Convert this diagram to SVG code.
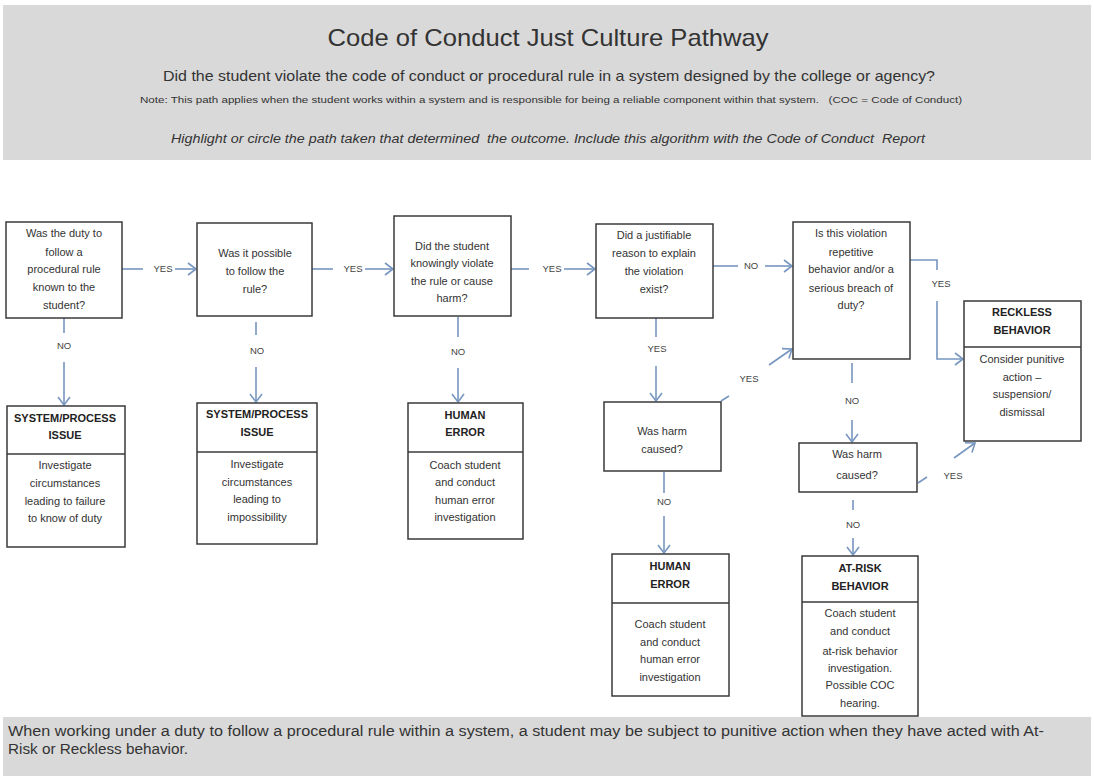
<svg xmlns="http://www.w3.org/2000/svg" width="1094" height="776" viewBox="0 0 1094 776">
<defs>
<style>
text{font-family:"Liberation Sans",Arial,sans-serif;fill:#333;}
.q{font-size:11px;text-anchor:middle;}
.h{font-size:11px;font-weight:bold;text-anchor:middle;fill:#222;}
.lbl{font-size:9.5px;text-anchor:middle;fill:#444;}
.box{fill:#fff;stroke:#3a3a3a;stroke-width:1.5;}
.div{stroke:#3a3a3a;stroke-width:1.5;}
.c{stroke:#7796c0;stroke-width:1.6;fill:none;}
.ca{stroke:#7796c0;stroke-width:1.6;fill:none;marker-end:url(#arr);}
.band{fill:#d9d9d9;}
</style>
<marker id="arr" markerUnits="userSpaceOnUse" markerWidth="12" markerHeight="14" refX="9" refY="7" orient="auto">
<path d="M1,1 L9,7 L1,13" fill="none" stroke="#7796c0" stroke-width="1.6"/>
</marker>
</defs>
<rect width="1094" height="776" fill="#fff"/>

<g id="header">
<rect class="band" x="3" y="5" width="1088" height="155"/>
<text x="548" y="46" font-size="24" text-anchor="middle" fill="#222" textLength="441" lengthAdjust="spacingAndGlyphs">Code of Conduct Just Culture Pathway</text>
<text x="549" y="81" font-size="14.5" text-anchor="middle" fill="#222" textLength="772" lengthAdjust="spacingAndGlyphs">Did the student violate the code of conduct or procedural rule in a system designed by the college or agency?</text>
<text x="551" y="103" font-size="9" text-anchor="middle" fill="#222" textLength="822" lengthAdjust="spacingAndGlyphs" xml:space="preserve">Note: This path applies when the student works within a system and is responsible for being a reliable component within that system.   (COC = Code of Conduct)</text>
<text x="548" y="143" font-size="12" font-style="italic" text-anchor="middle" fill="#222" textLength="754" lengthAdjust="spacingAndGlyphs" xml:space="preserve">Highlight or circle the path taken that determined  the outcome. Include this algorithm with the Code of Conduct  Report</text>
</g>

<g id="footer">
<rect class="band" x="3" y="717" width="1088" height="59"/>
<text x="8" y="736" font-size="14" fill="#222" textLength="1036" lengthAdjust="spacingAndGlyphs">When working under a duty to follow a procedural rule within a system, a student may be subject to punitive action when they have acted with At-</text>
<text x="8" y="754" font-size="14" fill="#222" textLength="180" lengthAdjust="spacingAndGlyphs">Risk or Reckless behavior.</text>
</g>

<g id="connectors">
<line class="c" x1="122" y1="269" x2="143" y2="269"/>
<text class="lbl" x="163" y="272">YES</text>
<line class="ca" x1="175" y1="269" x2="196" y2="269"/>

<line class="c" x1="312" y1="269" x2="333" y2="269"/>
<text class="lbl" x="353" y="272">YES</text>
<line class="ca" x1="365" y1="269" x2="393" y2="269"/>

<line class="c" x1="511" y1="269" x2="529" y2="269"/>
<text class="lbl" x="552" y="272">YES</text>
<line class="ca" x1="564" y1="269" x2="595" y2="269"/>

<line class="c" x1="713" y1="266" x2="738" y2="266"/>
<text class="lbl" x="751" y="269">NO</text>
<line class="ca" x1="765" y1="266" x2="792" y2="266"/>

<polyline class="c" points="910,260 937,260 937,270"/>
<text class="lbl" x="941" y="287">YES</text>
<polyline class="ca" points="937,301 937,359 963,359"/>

<line class="c" x1="64" y1="318" x2="64" y2="333"/>
<text class="lbl" x="64" y="349">NO</text>
<line class="ca" x1="64" y1="362" x2="64" y2="405"/>

<line class="c" x1="256" y1="322" x2="256" y2="335"/>
<text class="lbl" x="257" y="354">NO</text>
<line class="ca" x1="256" y1="367" x2="256" y2="402"/>

<line class="c" x1="458" y1="317" x2="458" y2="337"/>
<text class="lbl" x="458" y="355">NO</text>
<line class="ca" x1="458" y1="368" x2="458" y2="402"/>

<line class="c" x1="656" y1="318" x2="656" y2="337"/>
<text class="lbl" x="657" y="352">YES</text>
<line class="ca" x1="656" y1="366" x2="656" y2="401"/>

<line class="c" x1="721" y1="401" x2="729" y2="396"/>
<text class="lbl" x="749" y="382">YES</text>
<line class="ca" x1="769" y1="365" x2="792" y2="349"/>

<line class="c" x1="852" y1="363" x2="852" y2="383"/>
<text class="lbl" x="852" y="404">NO</text>
<line class="ca" x1="852" y1="420" x2="852" y2="442"/>

<line class="c" x1="918" y1="483" x2="927" y2="477"/>
<text class="lbl" x="953" y="479">YES</text>
<line class="ca" x1="954" y1="458" x2="975" y2="443"/>

<line class="c" x1="664" y1="472" x2="664" y2="493"/>
<text class="lbl" x="664" y="505">NO</text>
<line class="ca" x1="664" y1="516" x2="664" y2="553"/>

<line class="c" x1="853" y1="500" x2="853" y2="510"/>
<text class="lbl" x="853" y="528">NO</text>
<line class="ca" x1="853" y1="538" x2="853" y2="555"/>
</g>

<g id="q1">
<rect class="box" x="6" y="222" width="116" height="96"/>
<text class="q" x="64" y="237">Was the duty to</text>
<text class="q" x="64" y="256">follow a</text>
<text class="q" x="64" y="273">procedural rule</text>
<text class="q" x="64" y="291">known to the</text>
<text class="q" x="64" y="309">student?</text>
</g>

<g id="q2">
<rect class="box" x="197" y="223" width="115" height="93"/>
<text class="q" x="255" y="257">Was it possible</text>
<text class="q" x="255" y="275">to follow the</text>
<text class="q" x="255" y="293">rule?</text>
</g>

<g id="q3">
<rect class="box" x="394" y="216" width="117" height="100"/>
<text class="q" x="452" y="250">Did the student</text>
<text class="q" x="452" y="267">knowingly violate</text>
<text class="q" x="452" y="285">the rule or cause</text>
<text class="q" x="452" y="302">harm?</text>
</g>

<g id="q4">
<rect class="box" x="596" y="224" width="117" height="94"/>
<text class="q" x="654" y="239">Did a justifiable</text>
<text class="q" x="654" y="257">reason to explain</text>
<text class="q" x="654" y="275">the violation</text>
<text class="q" x="654" y="293">exist?</text>
</g>

<g id="q5">
<rect class="box" x="793" y="222" width="117" height="137"/>
<text class="q" x="851" y="237">Is this violation</text>
<text class="q" x="851" y="256">repetitive</text>
<text class="q" x="851" y="273">behavior and/or a</text>
<text class="q" x="851" y="292">serious breach of</text>
<text class="q" x="851" y="309">duty?</text>
</g>

<g id="reckless">
<rect class="box" x="964" y="301" width="117" height="140"/>
<line class="div" x1="964" y1="347" x2="1081" y2="347"/>
<text class="h" x="1022" y="316">RECKLESS</text>
<text class="h" x="1022" y="334">BEHAVIOR</text>
<text class="q" x="1022" y="363">Consider punitive</text>
<text class="q" x="1022" y="381">action –</text>
<text class="q" x="1022" y="398">suspension/</text>
<text class="q" x="1022" y="416">dismissal</text>
</g>

<g id="sys1">
<rect class="box" x="7" y="406" width="118" height="141"/>
<line class="div" x1="7" y1="454" x2="125" y2="454"/>
<text class="h" x="65" y="422">SYSTEM/PROCESS</text>
<text class="h" x="65" y="439">ISSUE</text>
<text class="q" x="65" y="469">Investigate</text>
<text class="q" x="65" y="487">circumstances</text>
<text class="q" x="65" y="505">leading to failure</text>
<text class="q" x="65" y="522">to know of duty</text>
</g>

<g id="sys2">
<rect class="box" x="197" y="403" width="120" height="141"/>
<line class="div" x1="197" y1="452" x2="317" y2="452"/>
<text class="h" x="257" y="418">SYSTEM/PROCESS</text>
<text class="h" x="257" y="436">ISSUE</text>
<text class="q" x="257" y="468">Investigate</text>
<text class="q" x="257" y="486">circumstances</text>
<text class="q" x="257" y="503">leading to</text>
<text class="q" x="257" y="521">impossibility</text>
</g>

<g id="human1">
<rect class="box" x="408" y="403" width="115" height="136"/>
<line class="div" x1="408" y1="452" x2="523" y2="452"/>
<text class="h" x="465" y="419">HUMAN</text>
<text class="h" x="465" y="436">ERROR</text>
<text class="q" x="465" y="469">Coach student</text>
<text class="q" x="465" y="486">and conduct</text>
<text class="q" x="465" y="504">human error</text>
<text class="q" x="465" y="521">investigation</text>
</g>

<g id="harm1">
<rect class="box" x="604" y="402" width="117" height="69"/>
<text class="q" x="662" y="435">Was harm</text>
<text class="q" x="662" y="453">caused?</text>
</g>

<g id="harm2">
<rect class="box" x="799" y="443" width="118" height="49"/>
<text class="q" x="857" y="458">Was harm</text>
<text class="q" x="857" y="479">caused?</text>
</g>

<g id="human2">
<rect class="box" x="612" y="554" width="117" height="142"/>
<line class="div" x1="612" y1="603" x2="729" y2="603"/>
<text class="h" x="670" y="570">HUMAN</text>
<text class="h" x="670" y="588">ERROR</text>
<text class="q" x="670" y="628">Coach student</text>
<text class="q" x="670" y="646">and conduct</text>
<text class="q" x="670" y="663">human error</text>
<text class="q" x="670" y="681">investigation</text>
</g>

<g id="atrisk">
<rect class="box" x="802" y="556" width="116" height="160"/>
<line class="div" x1="802" y1="602" x2="918" y2="602"/>
<text class="h" x="860" y="572">AT-RISK</text>
<text class="h" x="860" y="590">BEHAVIOR</text>
<text class="q" x="860" y="617">Coach student</text>
<text class="q" x="860" y="635">and conduct</text>
<text class="q" x="860" y="655">at-risk behavior</text>
<text class="q" x="860" y="672">investigation.</text>
<text class="q" x="860" y="689">Possible COC</text>
<text class="q" x="860" y="707">hearing.</text>
</g>
</svg>
